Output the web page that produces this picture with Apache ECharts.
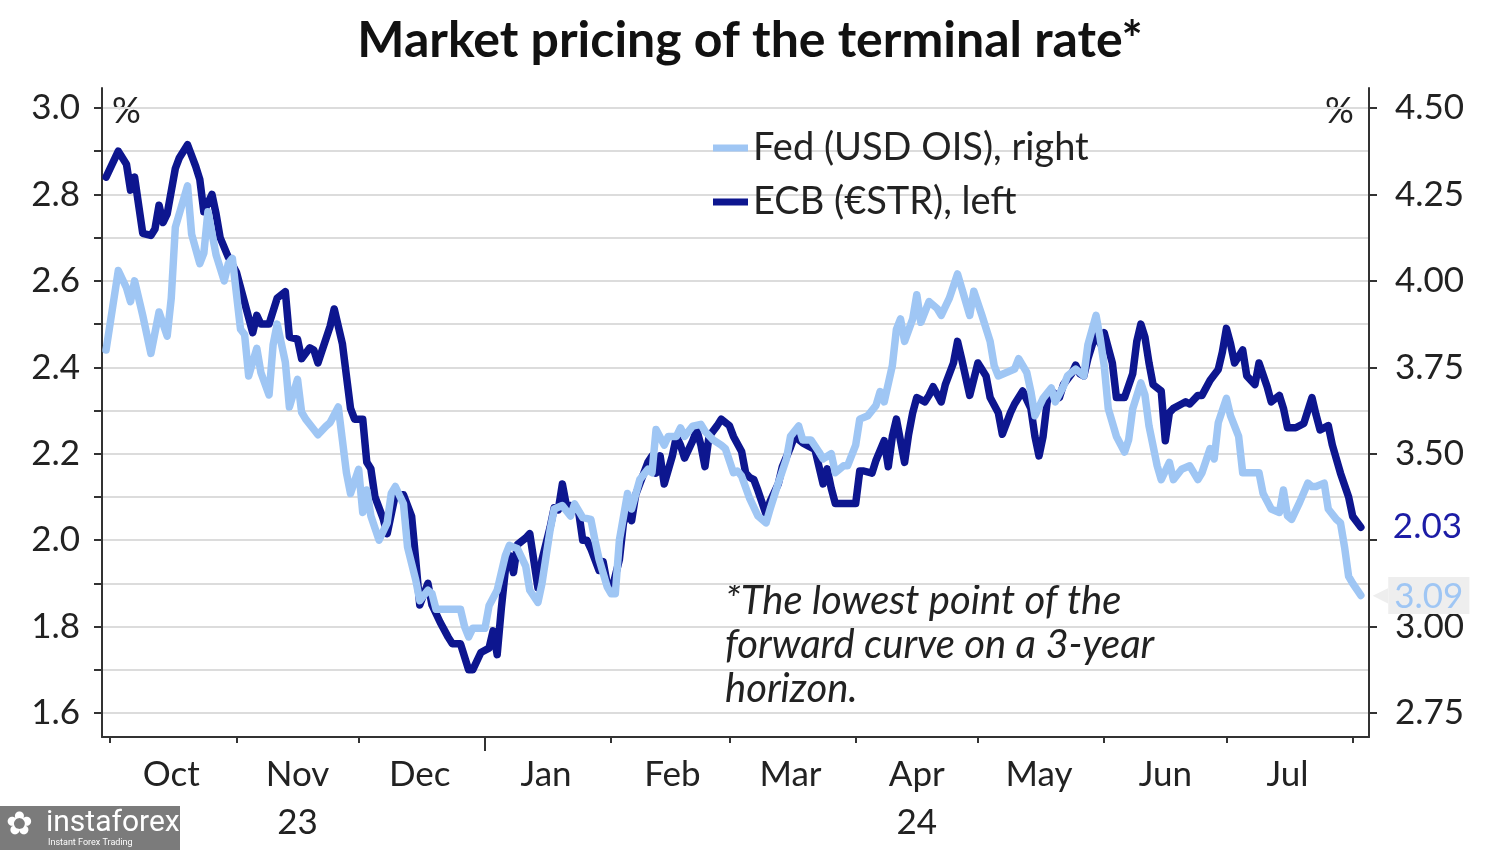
<!DOCTYPE html>
<html><head><meta charset="utf-8">
<script src="https://cdn.jsdelivr.net/npm/echarts@6/dist/echarts.min.js"></script>
<style>html,body{margin:0;padding:0;background:#fff}#c{width:1500px;height:850px}</style>
</head><body><div id="c"></div>
<script>
// ---------- DATA ----------
const ecbDates = ['2023-09-30','2023-10-03','2023-10-05','2023-10-06','2023-10-07','2023-10-09','2023-10-11','2023-10-12','2023-10-13','2023-10-14','2023-10-15','2023-10-17','2023-10-18','2023-10-20','2023-10-22','2023-10-23','2023-10-24','2023-10-26','2023-10-27','2023-10-28','2023-10-30','2023-11-01','2023-11-03','2023-11-05','2023-11-06','2023-11-07','2023-11-09','2023-11-11','2023-11-13','2023-11-14','2023-11-16','2023-11-17','2023-11-19','2023-11-20','2023-11-21','2023-11-24','2023-11-25','2023-11-27','2023-11-29','2023-11-30','2023-12-02','2023-12-03','2023-12-04','2023-12-05','2023-12-07','2023-12-08','2023-12-10','2023-12-12','2023-12-14','2023-12-15','2023-12-16','2023-12-18','2023-12-19','2023-12-21','2023-12-23','2023-12-24','2023-12-26','2023-12-28','2023-12-29','2023-12-31','2024-01-02','2024-01-03','2024-01-04','2024-01-05','2024-01-06','2024-01-07','2024-01-08','2024-01-09','2024-01-11','2024-01-12','2024-01-14','2024-01-15','2024-01-17','2024-01-18','2024-01-19','2024-01-20','2024-01-21','2024-01-22','2024-01-24','2024-01-25','2024-01-26','2024-01-27','2024-01-29','2024-01-30','2024-01-31','2024-02-01','2024-02-03','2024-02-04','2024-02-05','2024-02-06','2024-02-07','2024-02-09','2024-02-10','2024-02-11','2024-02-12','2024-02-13','2024-02-14','2024-02-16','2024-02-17','2024-02-18','2024-02-19','2024-02-21','2024-02-22','2024-02-23','2024-02-24','2024-02-25','2024-02-27','2024-02-28','2024-03-01','2024-03-02','2024-03-04','2024-03-05','2024-03-06','2024-03-07','2024-03-08','2024-03-10','2024-03-11','2024-03-13','2024-03-14','2024-03-16','2024-03-17','2024-03-19','2024-03-20','2024-03-22','2024-03-24','2024-03-25','2024-03-26','2024-03-27','2024-03-29','2024-04-01','2024-04-02','2024-04-03','2024-04-05','2024-04-06','2024-04-08','2024-04-09','2024-04-10','2024-04-11','2024-04-13','2024-04-14','2024-04-15','2024-04-16','2024-04-18','2024-04-19','2024-04-20','2024-04-22','2024-04-23','2024-04-25','2024-04-26','2024-04-27','2024-04-29','2024-05-01','2024-05-03','2024-05-04','2024-05-06','2024-05-07','2024-05-09','2024-05-10','2024-05-12','2024-05-14','2024-05-15','2024-05-16','2024-05-17','2024-05-18','2024-05-19','2024-05-21','2024-05-22','2024-05-24','2024-05-25','2024-05-26','2024-05-27','2024-05-28','2024-05-30','2024-05-31','2024-06-01','2024-06-03','2024-06-04','2024-06-06','2024-06-08','2024-06-09','2024-06-10','2024-06-11','2024-06-12','2024-06-13','2024-06-15','2024-06-16','2024-06-17','2024-06-18','2024-06-20','2024-06-21','2024-06-22','2024-06-24','2024-06-25','2024-06-27','2024-06-29','2024-06-30','2024-07-01','2024-07-02','2024-07-03','2024-07-05','2024-07-06','2024-07-08','2024-07-09','2024-07-11','2024-07-12','2024-07-14','2024-07-15','2024-07-16','2024-07-18','2024-07-20','2024-07-22','2024-07-23','2024-07-24','2024-07-26','2024-07-27','2024-07-29','2024-07-31','2024-08-01','2024-08-03'];
const ecbValues = [2.84,2.90,2.87,2.81,2.84,2.71,2.705,2.72,2.775,2.735,2.755,2.86,2.885,2.915,2.865,2.835,2.76,2.80,2.755,2.70,2.655,2.62,2.55,2.48,2.52,2.50,2.50,2.56,2.575,2.47,2.465,2.42,2.445,2.44,2.41,2.495,2.535,2.455,2.305,2.28,2.28,2.18,2.165,2.10,2.05,2.015,2.105,2.105,2.055,1.955,1.85,1.90,1.85,1.81,1.775,1.76,1.76,1.70,1.70,1.74,1.75,1.79,1.735,1.84,1.93,1.965,1.925,1.99,2.005,2.015,1.89,1.955,2.03,2.075,2.07,2.13,2.08,2.08,2.065,2.00,2.00,1.98,1.93,1.95,1.90,1.88,1.955,2.04,2.065,2.045,2.105,2.155,2.18,2.195,2.155,2.195,2.13,2.195,2.24,2.22,2.19,2.23,2.255,2.22,2.17,2.24,2.265,2.28,2.265,2.24,2.205,2.155,2.145,2.14,2.115,2.06,2.09,2.13,2.17,2.215,2.24,2.225,2.22,2.21,2.13,2.165,2.12,2.085,2.085,2.085,2.16,2.16,2.155,2.185,2.23,2.17,2.24,2.28,2.18,2.245,2.295,2.33,2.32,2.335,2.355,2.32,2.36,2.41,2.46,2.42,2.335,2.41,2.38,2.33,2.295,2.245,2.295,2.315,2.345,2.305,2.24,2.195,2.24,2.32,2.345,2.33,2.36,2.385,2.405,2.385,2.38,2.42,2.48,2.455,2.48,2.41,2.33,2.33,2.385,2.46,2.50,2.47,2.41,2.36,2.345,2.23,2.295,2.305,2.315,2.32,2.315,2.335,2.335,2.37,2.395,2.435,2.49,2.455,2.41,2.44,2.38,2.36,2.41,2.355,2.32,2.335,2.305,2.26,2.26,2.27,2.33,2.29,2.255,2.265,2.22,2.155,2.10,2.055,2.03];

const fedDates = ['2023-09-30','2023-10-03','2023-10-05','2023-10-06','2023-10-07','2023-10-09','2023-10-11','2023-10-13','2023-10-15','2023-10-16','2023-10-17','2023-10-20','2023-10-21','2023-10-23','2023-10-24','2023-10-25','2023-10-27','2023-10-29','2023-10-30','2023-10-31','2023-11-02','2023-11-03','2023-11-04','2023-11-06','2023-11-07','2023-11-09','2023-11-10','2023-11-11','2023-11-13','2023-11-14','2023-11-16','2023-11-17','2023-11-18','2023-11-20','2023-11-21','2023-11-23','2023-11-24','2023-11-26','2023-11-27','2023-11-28','2023-11-29','2023-12-01','2023-12-02','2023-12-03','2023-12-04','2023-12-06','2023-12-08','2023-12-09','2023-12-10','2023-12-12','2023-12-13','2023-12-15','2023-12-16','2023-12-18','2023-12-19','2023-12-20','2023-12-26','2023-12-27','2023-12-28','2023-12-29','2024-01-01','2024-01-02','2024-01-04','2024-01-06','2024-01-07','2024-01-09','2024-01-11','2024-01-12','2024-01-14','2024-01-15','2024-01-17','2024-01-18','2024-01-20','2024-01-22','2024-01-23','2024-01-25','2024-01-27','2024-01-28','2024-01-29','2024-01-31','2024-02-01','2024-02-02','2024-02-03','2024-02-05','2024-02-06','2024-02-08','2024-02-10','2024-02-11','2024-02-12','2024-02-14','2024-02-15','2024-02-17','2024-02-18','2024-02-19','2024-02-21','2024-02-23','2024-02-24','2024-02-26','2024-02-28','2024-02-29','2024-03-02','2024-03-03','2024-03-04','2024-03-06','2024-03-08','2024-03-10','2024-03-11','2024-03-13','2024-03-15','2024-03-16','2024-03-18','2024-03-19','2024-03-21','2024-03-23','2024-03-24','2024-03-26','2024-03-27','2024-03-29','2024-03-30','2024-04-01','2024-04-02','2024-04-04','2024-04-06','2024-04-07','2024-04-08','2024-04-10','2024-04-11','2024-04-12','2024-04-13','2024-04-15','2024-04-16','2024-04-17','2024-04-19','2024-04-21','2024-04-22','2024-04-24','2024-04-26','2024-04-27','2024-04-29','2024-04-30','2024-05-02','2024-05-04','2024-05-05','2024-05-06','2024-05-08','2024-05-10','2024-05-11','2024-05-13','2024-05-14','2024-05-15','2024-05-17','2024-05-19','2024-05-20','2024-05-22','2024-05-23','2024-05-25','2024-05-27','2024-05-28','2024-05-30','2024-05-31','2024-06-01','2024-06-02','2024-06-04','2024-06-06','2024-06-07','2024-06-08','2024-06-10','2024-06-11','2024-06-12','2024-06-14','2024-06-15','2024-06-17','2024-06-18','2024-06-20','2024-06-22','2024-06-24','2024-06-25','2024-06-27','2024-06-28','2024-06-29','2024-07-01','2024-07-02','2024-07-04','2024-07-05','2024-07-07','2024-07-09','2024-07-10','2024-07-12','2024-07-14','2024-07-15','2024-07-16','2024-07-17','2024-07-19','2024-07-21','2024-07-22','2024-07-23','2024-07-25','2024-07-26','2024-07-28','2024-07-29','2024-07-30','2024-07-31','2024-08-01','2024-08-03'];
const fedValues = [3.80,4.03,3.98,3.94,4.00,3.90,3.79,3.91,3.84,3.95,4.155,4.275,4.135,4.05,4.08,4.20,4.075,4.00,4.05,4.065,3.86,3.845,3.725,3.805,3.735,3.67,3.815,3.875,3.765,3.635,3.715,3.62,3.60,3.57,3.555,3.58,3.59,3.635,3.54,3.445,3.385,3.455,3.33,3.395,3.32,3.25,3.30,3.385,3.405,3.355,3.23,3.135,3.075,3.105,3.095,3.05,3.05,3.00,2.97,2.995,2.995,3.06,3.105,3.205,3.235,3.225,3.175,3.105,3.07,3.125,3.28,3.34,3.35,3.32,3.355,3.315,3.31,3.25,3.195,3.115,3.095,3.095,3.25,3.385,3.34,3.425,3.455,3.445,3.57,3.525,3.55,3.55,3.575,3.55,3.58,3.585,3.565,3.54,3.525,3.515,3.445,3.45,3.435,3.37,3.32,3.30,3.34,3.415,3.485,3.55,3.58,3.54,3.54,3.505,3.485,3.50,3.445,3.465,3.465,3.525,3.60,3.61,3.64,3.68,3.65,3.755,3.86,3.89,3.825,3.89,3.96,3.88,3.94,3.92,3.90,3.95,4.02,3.98,3.90,3.97,3.90,3.825,3.755,3.725,3.735,3.745,3.775,3.735,3.68,3.61,3.66,3.69,3.65,3.695,3.725,3.745,3.725,3.815,3.90,3.835,3.755,3.63,3.55,3.505,3.54,3.63,3.705,3.67,3.58,3.465,3.425,3.475,3.425,3.455,3.465,3.425,3.445,3.515,3.485,3.59,3.66,3.61,3.55,3.445,3.445,3.445,3.385,3.34,3.33,3.395,3.32,3.31,3.36,3.415,3.405,3.405,3.415,3.34,3.31,3.30,3.23,3.145,3.125,3.09];

const monthNames = ['Jan','Feb','Mar','Apr','May','Jun','Jul','Aug','Sep','Oct','Nov','Dec'];
const yearLabels = {'2023-11':'23','2024-04':'24'};
const leftTickLabels = ['1.6','1.8','2.0','2.2','2.4','2.6','2.8','3.0'];
const rightTickLabels = ['2.75','3.00','3.50','3.75','4.00','4.25','4.50'];
const seriesNames = ['Fed (USD OIS), right','ECB (€STR), left'];

// ---------- LAYOUT / STYLE ----------
const FONT = 'Lato, "Noto Sans", sans-serif';
const DARK = '#0d168f';
const LIGHT = '#9fc6f4';
const AXIS_START = '2023-09-29', AXIS_END = '2024-08-05';
const DAY = 86400000;
function ts(s){const p=s.split('-').map(Number);return Date.UTC(p[0],p[1]-1,p[2]);}
const days = [];
for (let t = ts(AXIS_START); t <= ts(AXIS_END); t += DAY) days.push(new Date(t).toISOString().slice(0,10));

const gridOuter = {left:102, right:131, top:88, bottom:113, outerBoundsMode:'none'};
const gridInner = {left:102, right:131, top:108, bottom:137, outerBoundsMode:'none'};
const TICK_FS = 35;

const chart = echarts.init(document.getElementById('c'), null, {renderer:'canvas'});
chart.setOption({
  animation:false,
  backgroundColor:'#fff',
  title:{text:'Market pricing of the terminal rate*', left:'center', top:11,
    textStyle:{fontSize:50, fontWeight:'bold', color:'#111', fontFamily:FONT}},
  legend:{orient:'vertical', left:713, top:126, padding:0, itemWidth:35, itemHeight:7, itemGap:10, icon:'rect',
    textStyle:{fontSize:38, color:'#222', fontFamily:FONT, lineHeight:44},
    data:seriesNames},
  grid:[gridOuter, gridInner],
  xAxis:[
    {type:'category', gridIndex:0, data:days, boundaryGap:false, position:'bottom',
      axisLine:{show:true, onZero:false, lineStyle:{color:'#333', width:2}},
      axisTick:{show:true, length:6, lineStyle:{color:'#333', width:2},
        interval:(i,v)=>v.slice(8)==='01'},
      axisLabel:{show:true, interval:(i,v)=>v.slice(8)==='16', margin:14,
        fontSize:TICK_FS, lineHeight:48, color:'#222', fontFamily:FONT,
        formatter:(v)=>{const yl=yearLabels[v.slice(0,7)];return monthNames[+v.slice(5,7)-1]+(yl?'\n'+yl:'');}},
      splitLine:{show:false}},
    {type:'category', gridIndex:0, data:days, boundaryGap:false, position:'bottom',
      axisLine:{show:false},
      axisTick:{show:true, length:14, lineStyle:{color:'#333', width:2},
        interval:(i,v)=>v.slice(5)==='01-01'},
      axisLabel:{show:false}, splitLine:{show:false}},
    {type:'time', gridIndex:1, min:ts(AXIS_START), max:ts(AXIS_END), show:false,
      axisLine:{show:false}, axisTick:{show:false}, axisLabel:{show:false}, splitLine:{show:false}}
  ],
  yAxis:[
    {type:'value', gridIndex:0, position:'left', min:0, max:1,
      axisLine:{show:true, onZero:false, lineStyle:{color:'#333', width:2}},
      axisTick:{show:false}, axisLabel:{show:false}, splitLine:{show:false}},
    {type:'value', gridIndex:0, position:'right', min:0, max:1,
      axisLine:{show:true, onZero:false, lineStyle:{color:'#333', width:2}},
      axisTick:{show:false}, axisLabel:{show:false}, splitLine:{show:false}},
    {type:'value', gridIndex:1, position:'left', min:1.6, max:3.0, interval:0.1,
      axisLine:{show:false},
      axisTick:{show:true, length:8, lineStyle:{color:'#333', width:2}},
      axisLabel:{show:true, margin:22, fontSize:TICK_FS, color:'#222', fontFamily:FONT,
        formatter:(v)=>{const s=v.toFixed(1);return leftTickLabels.includes(s)?s:'';}},
      splitLine:{show:true, lineStyle:{color:'#dcdcdc', width:2}}},
    {type:'value', gridIndex:1, position:'right', min:2.75, max:4.5, interval:0.25,
      axisLine:{show:false},
      axisTick:{show:true, length:8, lineStyle:{color:'#333', width:2}},
      axisLabel:{show:true, margin:26, fontSize:TICK_FS, color:'#222', fontFamily:FONT,
        formatter:(v)=>{const s=v.toFixed(2);return rightTickLabels.includes(s)?s:'';}},
      splitLine:{show:false}}
  ],
  series:[
    {name:seriesNames[1], type:'line', xAxisIndex:2, yAxisIndex:2, z:3,
      data:ecbDates.map((d,i)=>[ts(d), ecbValues[i]]),
      showSymbol:false, symbol:'none', smooth:false,
      lineStyle:{color:DARK, width:7.5, cap:'round', join:'round'}, itemStyle:{color:DARK},
      endLabel:{show:true, distance:32, formatter:(p)=>p.value[1].toFixed(2),
        color:'#1c1ca6', fontSize:TICK_FS, fontFamily:FONT}},
    {name:seriesNames[0], type:'line', xAxisIndex:2, yAxisIndex:3, z:4,
      data:fedDates.map((d,i)=>[ts(d), fedValues[i]]),
      showSymbol:false, symbol:'none', smooth:false,
      lineStyle:{color:LIGHT, width:7.5, cap:'round', join:'round'}, itemStyle:{color:LIGHT},
      endLabel:{show:true, distance:12, formatter:(p)=>'{t|◀}{v|'+p.value[1].toFixed(2)+'}',
        rich:{t:{color:'#eeeeee', fontSize:20, fontFamily:'DejaVu Sans'},
              v:{color:LIGHT, backgroundColor:'#eeeeee', fontSize:TICK_FS, fontFamily:FONT, padding:[2,6,0,6]}}}}
  ],
  graphic:[
    {type:'text', left:112, top:93, style:{text:'%', fontSize:36, fill:'#222', fontFamily:FONT}},
    {type:'text', left:1325, top:93, style:{text:'%', fontSize:36, fill:'#222', fontFamily:FONT}},
    {type:'text', left:725, top:579, style:{text:'*The lowest point of the\nforward curve on a 3-year\nhorizon.',
      fontSize:40, fontStyle:'italic', fill:'#222', fontFamily:FONT, lineHeight:44}},
    {type:'group', left:0, top:806, children:[
      {type:'rect', shape:{x:0, y:0, width:180, height:44}, style:{fill:'#7b7b7b'}},
      {type:'text', x:6, y:4, style:{text:'✿', fontSize:32, fill:'#fff', fontFamily:'DejaVu Sans'}},
      {type:'text', x:46, y:2, style:{text:'instaforex', fontSize:30, fill:'#fff', fontFamily:'Roboto, sans-serif'}},
      {type:'text', x:48, y:32, style:{text:'Instant Forex Trading', fontSize:9, fill:'#fff', fontFamily:'Roboto, sans-serif'}}
    ]}
  ]
});
</script>
</body></html>
